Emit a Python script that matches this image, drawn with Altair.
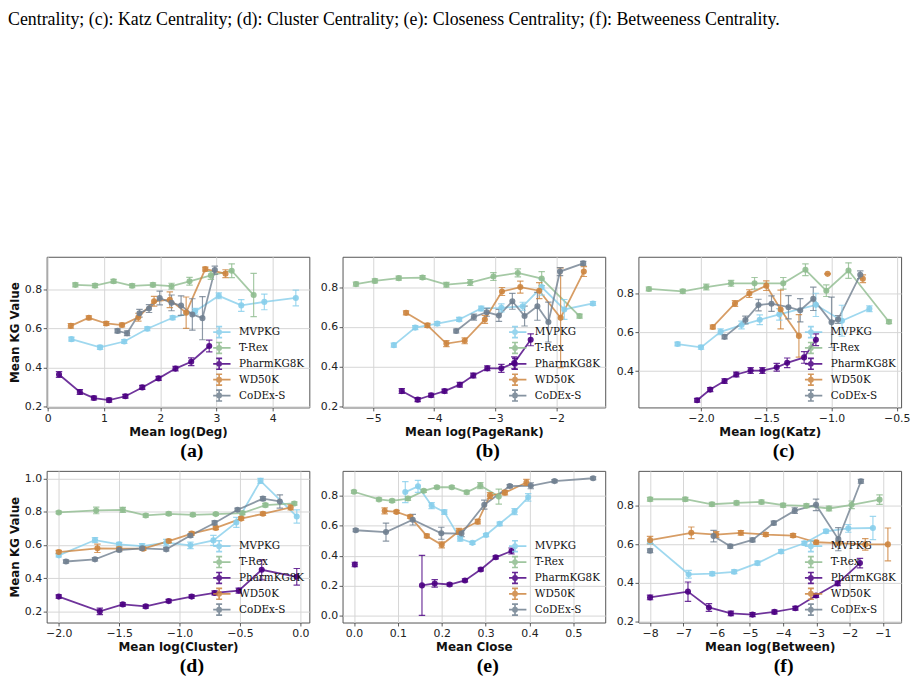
import altair as alt
import pandas as pd

SERIES = ["MVPKG", "T-Rex", "PharmKG8K", "WD50K", "CoDEx-S"]
COLORS = ["#87CEEB", "#8FBC8F", "#4B0082", "#CD853F", "#708090"]

CAPTION = ("Centrality; (c): Katz Centrality; (d): Cluster Centrality; "
           "(e): Closeness Centrality; (f): Betweeness Centrality.")

# ---------------- Panel (a): Mean log(Deg) ----------------
A_MVPKG_X = [0.42, 0.93, 1.36, 1.77, 2.22, 2.62, 3.04, 3.44, 3.85, 4.41]
A_MVPKG_Y = [0.545, 0.503, 0.533, 0.598, 0.654, 0.687, 0.766, 0.717, 0.735, 0.755]
A_MVPKG_E = [0.01, 0.01, 0.01, 0.01, 0.01, 0.015, 0.015, 0.03, 0.04, 0.04]
A_TREX_X = [0.49, 0.84, 1.17, 1.50, 1.87, 2.20, 2.52, 2.90, 3.27, 3.66]
A_TREX_Y = [0.822, 0.818, 0.840, 0.817, 0.822, 0.815, 0.840, 0.870, 0.894, 0.770]
A_TREX_E = [0.01, 0.01, 0.01, 0.01, 0.01, 0.015, 0.02, 0.02, 0.035, 0.11]
A_PHARM_X = [0.20, 0.57, 0.82, 1.09, 1.38, 1.68, 1.97, 2.27, 2.55, 2.87]
A_PHARM_Y = [0.365, 0.276, 0.245, 0.234, 0.254, 0.299, 0.345, 0.395, 0.430, 0.510]
A_PHARM_E = [0.015, 0.012, 0.01, 0.01, 0.01, 0.01, 0.01, 0.012, 0.02, 0.03]
A_WD_X = [0.41, 0.73, 1.04, 1.32, 1.61, 1.89, 2.17, 2.46, 2.80, 3.16]
A_WD_Y = [0.613, 0.654, 0.625, 0.617, 0.657, 0.738, 0.746, 0.680, 0.902, 0.879]
A_WD_E = [0.012, 0.01, 0.01, 0.01, 0.02, 0.025, 0.04, 0.08, 0.01, 0.02]
A_CODEX_X = [1.24, 1.41, 1.63, 1.80, 1.99, 2.20, 2.37, 2.57, 2.75, 2.97]
A_CODEX_Y = [0.587, 0.575, 0.677, 0.701, 0.755, 0.730, 0.716, 0.671, 0.652, 0.897]
A_CODEX_E = [0.01, 0.012, 0.02, 0.02, 0.035, 0.04, 0.05, 0.08, 0.11, 0.02]

# ---------------- Panel (b): Mean log(PageRank) ----------------
B_MVPKG_X = [-4.66, -4.31, -3.95, -3.59, -3.23, -2.90, -2.55, -2.24, -1.87, -1.40]
B_MVPKG_Y = [0.509, 0.597, 0.617, 0.638, 0.693, 0.696, 0.704, 0.800, 0.688, 0.718]
B_MVPKG_E = [0.01, 0.01, 0.01, 0.01, 0.012, 0.02, 0.02, 0.04, 0.05, 0.01]
B_TREX_X = [-5.28, -4.97, -4.58, -4.19, -3.80, -3.41, -3.03, -2.63, -2.24, -1.62]
B_TREX_Y = [0.815, 0.831, 0.845, 0.848, 0.812, 0.823, 0.853, 0.871, 0.843, 0.655]
B_TREX_E = [0.01, 0.01, 0.01, 0.01, 0.012, 0.015, 0.02, 0.02, 0.035, 0.01]
B_PHARM_X = [-4.53, -4.27, -4.05, -3.83, -3.58, -3.36, -3.13, -2.90, -2.69, -2.42]
B_PHARM_Y = [0.279, 0.236, 0.258, 0.279, 0.311, 0.357, 0.393, 0.393, 0.420, 0.536]
B_PHARM_E = [0.012, 0.01, 0.01, 0.01, 0.012, 0.012, 0.012, 0.02, 0.03, 0.03]
B_WD_X = [-4.46, -4.11, -3.80, -3.50, -3.17, -2.89, -2.59, -2.28, -1.93, -1.55]
B_WD_Y = [0.671, 0.608, 0.517, 0.531, 0.638, 0.778, 0.800, 0.782, 0.646, 0.878]
B_WD_E = [0.01, 0.01, 0.015, 0.015, 0.02, 0.02, 0.03, 0.04, 0.25, 0.025]
B_CODEX_X = [-3.64, -3.35, -3.14, -2.94, -2.72, -2.52, -2.31, -2.13, -1.94, -1.56]
B_CODEX_Y = [0.580, 0.650, 0.674, 0.658, 0.729, 0.655, 0.704, 0.625, 0.878, 0.919]
B_CODEX_E = [0.01, 0.015, 0.02, 0.03, 0.04, 0.05, 0.07, 0.10, 0.02, 0.01]

# ---------------- Panel (c): Mean log(Katz) ----------------
C_MVPKG_X = [-2.18, -2.00, -1.85, -1.69, -1.55, -1.40, -1.12, -0.92, -0.71]
C_MVPKG_Y = [0.540, 0.523, 0.603, 0.638, 0.665, 0.693, 0.742, 0.660, 0.722]
C_MVPKG_E = [0.01, 0.01, 0.015, 0.02, 0.025, 0.03, 0.06, 0.08, 0.015]
C_TREX_X = [-2.40, -2.14, -1.96, -1.77, -1.59, -1.37, -1.20, -1.04, -0.87, -0.56]
C_TREX_Y = [0.824, 0.812, 0.834, 0.853, 0.853, 0.853, 0.923, 0.815, 0.919, 0.655]
C_TREX_E = [0.01, 0.01, 0.015, 0.015, 0.03, 0.03, 0.03, 0.03, 0.04, 0.01]
C_PHARM_X = [-2.03, -1.93, -1.82, -1.73, -1.62, -1.53, -1.42, -1.34, -1.21, -1.12]
C_PHARM_Y = [0.250, 0.305, 0.349, 0.383, 0.403, 0.403, 0.420, 0.443, 0.471, 0.562]
C_PHARM_E = [0.01, 0.01, 0.012, 0.012, 0.015, 0.015, 0.02, 0.025, 0.03, 0.03]
C_WD_X = [-1.91, -1.74, -1.63, -1.50, -1.39, -1.25, -1.03, -0.76]
C_WD_Y = [0.628, 0.749, 0.800, 0.841, 0.718, 0.582, 0.902, 0.877]
C_WD_E = [0.01, 0.015, 0.02, 0.025, 0.10, 0.11, 0.0, 0.02]
C_WD_SEG = [0, 0, 0, 0, 0, 0, 1, 2]
C_CODEX_X = [-1.82, -1.66, -1.56, -1.46, -1.33, -1.24, -1.14, -1.00, -0.95, -0.78]
C_CODEX_Y = [0.577, 0.664, 0.741, 0.748, 0.730, 0.714, 0.773, 0.652, 0.667, 0.897]
C_CODEX_E = [0.01, 0.02, 0.03, 0.04, 0.06, 0.06, 0.06, 0.13, 0.02, 0.02]

# ---------------- Panel (d): Mean log(Cluster) ----------------
D_MVPKG_X = [-2.00, -1.70, -1.50, -1.31, -1.11, -0.91, -0.72, -0.53, -0.33, -0.03]
D_MVPKG_Y = [0.537, 0.629, 0.603, 0.593, 0.613, 0.597, 0.627, 0.735, 0.985, 0.771]
D_MVPKG_E = [0.01, 0.015, 0.012, 0.015, 0.02, 0.02, 0.03, 0.03, 0.015, 0.04]
D_TREX_X = [-2.00, -1.69, -1.47, -1.28, -1.09, -0.89, -0.70, -0.48, -0.29, -0.05]
D_TREX_Y = [0.795, 0.807, 0.811, 0.777, 0.787, 0.781, 0.785, 0.791, 0.839, 0.849]
D_TREX_E = [0.008, 0.02, 0.015, 0.01, 0.01, 0.01, 0.008, 0.01, 0.01, 0.01]
D_PHARM_X = [-2.00, -1.66, -1.47, -1.28, -1.09, -0.90, -0.71, -0.51, -0.32, -0.03]
D_PHARM_Y = [0.289, 0.200, 0.242, 0.230, 0.262, 0.289, 0.311, 0.325, 0.450, 0.408]
D_PHARM_E = [0.01, 0.02, 0.01, 0.01, 0.01, 0.01, 0.012, 0.015, 0.06, 0.05]
D_WD_X = [-2.00, -1.68, -1.50, -1.30, -1.09, -0.90, -0.70, -0.49, -0.31, -0.08]
D_WD_Y = [0.557, 0.579, 0.577, 0.577, 0.623, 0.668, 0.702, 0.758, 0.787, 0.825]
D_WD_E = [0.01, 0.025, 0.01, 0.01, 0.01, 0.01, 0.01, 0.01, 0.01, 0.015]
D_CODEX_X = [-1.94, -1.70, -1.50, -1.31, -1.11, -0.91, -0.71, -0.52, -0.31, -0.17]
D_CODEX_Y = [0.500, 0.513, 0.569, 0.579, 0.573, 0.656, 0.732, 0.811, 0.878, 0.861]
D_CODEX_E = [0.01, 0.01, 0.01, 0.01, 0.01, 0.01, 0.012, 0.01, 0.012, 0.04]

# ---------------- Panel (e): Mean Close ----------------
E_MVPKG_X = [0.117, 0.146, 0.177, 0.206, 0.242, 0.270, 0.301, 0.332, 0.366, 0.397]
E_MVPKG_Y = [0.824, 0.862, 0.734, 0.691, 0.513, 0.486, 0.538, 0.613, 0.694, 0.789]
E_MVPKG_E = [0.07, 0.04, 0.02, 0.015, 0.015, 0.01, 0.01, 0.012, 0.02, 0.025]
E_TREX_X = [0.000, 0.057, 0.087, 0.123, 0.159, 0.189, 0.223, 0.257, 0.288, 0.330]
E_TREX_Y = [0.826, 0.775, 0.766, 0.781, 0.832, 0.856, 0.856, 0.823, 0.867, 0.794]
E_TREX_E = [0.01, 0.01, 0.01, 0.012, 0.01, 0.01, 0.01, 0.012, 0.02, 0.05]
E_PHARM_X = [0.002, 0.155, 0.184, 0.218, 0.253, 0.289, 0.323, 0.359]
E_PHARM_Y = [0.342, 0.203, 0.216, 0.209, 0.236, 0.309, 0.390, 0.432]
E_PHARM_E = [0.015, 0.20, 0.025, 0.01, 0.01, 0.01, 0.01, 0.02]
E_PHARM_SEG = [0, 1, 1, 1, 1, 1, 1, 1]
E_WD_X = [0.070, 0.097, 0.128, 0.166, 0.200, 0.239, 0.282, 0.310, 0.344, 0.393]
E_WD_Y = [0.699, 0.692, 0.660, 0.532, 0.473, 0.563, 0.627, 0.800, 0.820, 0.888]
E_WD_E = [0.02, 0.01, 0.01, 0.012, 0.02, 0.02, 0.015, 0.02, 0.015, 0.02]
E_CODEX_X = [0.004, 0.073, 0.134, 0.199, 0.245, 0.297, 0.355, 0.403, 0.457, 0.545]
E_CODEX_Y = [0.570, 0.558, 0.640, 0.550, 0.548, 0.740, 0.864, 0.866, 0.897, 0.916]
E_CODEX_E = [0.01, 0.06, 0.035, 0.04, 0.02, 0.03, 0.01, 0.02, 0.01, 0.01]

# ---------------- Panel (f): Mean log(Between) ----------------
F_MVPKG_X = [-8.00, -6.84, -6.13, -5.47, -4.77, -4.06, -3.36, -2.71, -2.04, -1.30]
F_MVPKG_Y = [0.614, 0.445, 0.448, 0.458, 0.503, 0.563, 0.606, 0.668, 0.683, 0.685]
F_MVPKG_E = [0.01, 0.02, 0.01, 0.01, 0.01, 0.01, 0.01, 0.01, 0.02, 0.06]
F_TREX_X = [-8.00, -6.94, -6.14, -5.40, -4.65, -4.00, -3.30, -2.62, -1.94, -1.10]
F_TREX_Y = [0.834, 0.834, 0.808, 0.815, 0.820, 0.803, 0.800, 0.786, 0.805, 0.832]
F_TREX_E = [0.01, 0.01, 0.01, 0.01, 0.01, 0.01, 0.01, 0.012, 0.02, 0.025]
F_PHARM_X = [-8.00, -6.86, -6.23, -5.57, -4.92, -4.26, -3.63, -3.01, -2.36, -1.69]
F_PHARM_Y = [0.325, 0.355, 0.273, 0.242, 0.236, 0.250, 0.269, 0.335, 0.398, 0.503]
F_PHARM_E = [0.012, 0.05, 0.02, 0.012, 0.01, 0.01, 0.01, 0.01, 0.012, 0.025]
F_WD_X = [-8.00, -6.76, -6.01, -5.27, -4.52, -3.70, -3.01, -2.34, -1.53, -0.85]
F_WD_Y = [0.622, 0.660, 0.651, 0.660, 0.651, 0.646, 0.611, 0.607, 0.600, 0.600]
F_WD_E = [0.02, 0.03, 0.015, 0.012, 0.01, 0.01, 0.01, 0.01, 0.03, 0.085]
F_CODEX_X = [-8.00, -6.09, -5.59, -4.92, -4.28, -3.65, -3.01, -2.34, -1.66]
F_CODEX_Y = [0.567, 0.643, 0.590, 0.623, 0.711, 0.775, 0.805, 0.627, 0.927]
F_CODEX_E = [0.01, 0.03, 0.01, 0.01, 0.01, 0.015, 0.03, 0.06, 0.01]
F_CODEX_SEG = [0, 1, 1, 1, 1, 1, 1, 1, 1]

# legend handle: line + error bar with caps + dot (unit box, symbolSize 100 -> 5px/unit)
LEGEND_PATH = ("M-2.3,0H2.3M0,-1.1V1.1M-0.6,-1.1H0.6M-0.6,1.1H0.6"
               "M-0.42,0A0.42,0.42 0 1,0 0.42,0A0.42,0.42 0 1,0 -0.42,0Z")


def frame(series_list):
    rows = []
    for name, xs, ys, es, segs in series_list:
        if segs is None:
            segs = [0] * len(xs)
        for x, y, e, s in zip(xs, ys, es, segs):
            rows.append({"series": name, "x": x, "y": y, "lo": y - e, "hi": y + e,
                         "seg": f"{name}-{s}"})
    return pd.DataFrame(rows)


def panel(series_list, xdom, ydom, xticks, yticks, xfmt, xtitle, ytitle, label, height):
    df = frame(series_list)
    base = alt.Chart(df)
    xscale = alt.Scale(domain=xdom, nice=False, zero=False)
    yscale = alt.Scale(domain=ydom, nice=False, zero=False)
    xaxis = alt.Axis(values=xticks, format=xfmt, title=xtitle)
    yaxis = alt.Axis(values=yticks, format=".1f", title=ytitle)

    def X():
        return alt.X("x:Q", scale=xscale, axis=xaxis)

    def Y(field):
        return alt.Y(f"{field}:Q", scale=yscale, axis=yaxis)

    cscale = alt.Scale(domain=SERIES, range=COLORS)
    legend = alt.Legend(
        orient="none", legendX=168, legendY=68.3, padding=0, title=None,
        symbolType=LEGEND_PATH, symbolSize=100, symbolStrokeWidth=1.7,
        symbolOpacity=0.85, labelFont="DejaVu Serif", labelFontSize=10.5,
        labelColor="#111", labelOffset=14, rowPadding=0, clipHeight=15.4,
    )
    line = base.mark_line(strokeWidth=1.8, opacity=0.8, clip=True).encode(
        x=X(), y=Y("y"), color=alt.Color("series:N", scale=cscale, legend=legend),
        detail="seg:N", order="x:Q")
    rule = base.mark_rule(strokeWidth=1.2, opacity=0.8, clip=True).encode(
        x=X(), y=Y("lo"), y2="hi:Q",
        color=alt.Color("series:N", scale=cscale, legend=None))
    cap_lo = base.mark_tick(orient="horizontal", size=6.5, thickness=1.2, opacity=0.8,
                            clip=True).encode(
        x=X(), y=Y("lo"), color=alt.Color("series:N", scale=cscale, legend=None))
    cap_hi = base.mark_tick(orient="horizontal", size=6.5, thickness=1.2, opacity=0.8,
                            clip=True).encode(
        x=X(), y=Y("hi"), color=alt.Color("series:N", scale=cscale, legend=None))
    pts = base.mark_circle(size=38, opacity=0.9, clip=True).encode(
        x=X(), y=Y("y"), color=alt.Color("series:N", scale=cscale, legend=None))
    return alt.layer(line, rule, cap_lo, cap_hi, pts).properties(
        width=265, height=height,
        title=alt.TitleParams(label, orient="bottom", anchor="middle", frame="group",
                              dx=14, offset=4, font="Liberation Serif", fontSize=20,
                              fontWeight="bold", color="#000"),
    )


Y_A = [0.2, 0.4, 0.6, 0.8]
Y_B = [0.2, 0.4, 0.6, 0.8]
Y_C = [0.4, 0.6, 0.8]
Y_D = [0.2, 0.4, 0.6, 0.8, 1.0]
Y_E = [0.0, 0.2, 0.4, 0.6, 0.8]
Y_F = [0.2, 0.4, 0.6, 0.8]

pa = panel([
    ("MVPKG", A_MVPKG_X, A_MVPKG_Y, A_MVPKG_E, None),
    ("T-Rex", A_TREX_X, A_TREX_Y, A_TREX_E, None),
    ("PharmKG8K", A_PHARM_X, A_PHARM_Y, A_PHARM_E, None),
    ("WD50K", A_WD_X, A_WD_Y, A_WD_E, None),
    ("CoDEx-S", A_CODEX_X, A_CODEX_Y, A_CODEX_E, None),
], [-0.02, 4.65], [0.197, 0.965], [0, 1, 2, 3, 4], Y_A, "d",
    "Mean log(Deg)", "Mean KG Value", "(a)", 152)

pb = panel([
    ("MVPKG", B_MVPKG_X, B_MVPKG_Y, B_MVPKG_E, None),
    ("T-Rex", B_TREX_X, B_TREX_Y, B_TREX_E, None),
    ("PharmKG8K", B_PHARM_X, B_PHARM_Y, B_PHARM_E, None),
    ("WD50K", B_WD_X, B_WD_Y, B_WD_E, None),
    ("CoDEx-S", B_CODEX_X, B_CODEX_Y, B_CODEX_E, None),
], [-5.50, -1.20], [0.197, 0.952], [-5, -4, -3, -2], Y_B, "d",
    "Mean log(PageRank)", None, "(b)", 152)

pc = panel([
    ("MVPKG", C_MVPKG_X, C_MVPKG_Y, C_MVPKG_E, None),
    ("T-Rex", C_TREX_X, C_TREX_Y, C_TREX_E, None),
    ("PharmKG8K", C_PHARM_X, C_PHARM_Y, C_PHARM_E, None),
    ("WD50K", C_WD_X, C_WD_Y, C_WD_E, C_WD_SEG),
    ("CoDEx-S", C_CODEX_X, C_CODEX_Y, C_CODEX_E, None),
], [-2.48, -0.467], [0.213, 0.99], [-2.0, -1.5, -1.0, -0.5], Y_C, ".1f",
    "Mean log(Katz)", None, "(c)", 152)

pd_ = panel([
    ("MVPKG", D_MVPKG_X, D_MVPKG_Y, D_MVPKG_E, None),
    ("T-Rex", D_TREX_X, D_TREX_Y, D_TREX_E, None),
    ("PharmKG8K", D_PHARM_X, D_PHARM_Y, D_PHARM_E, None),
    ("WD50K", D_WD_X, D_WD_Y, D_WD_E, None),
    ("CoDEx-S", D_CODEX_X, D_CODEX_Y, D_CODEX_E, None),
], [-2.10, 0.074], [0.133, 1.045], [-2.0, -1.5, -1.0, -0.5, 0.0], Y_D, ".1f",
    "Mean log(Cluster)", "Mean KG Value", "(d)", 153)

pe = panel([
    ("MVPKG", E_MVPKG_X, E_MVPKG_Y, E_MVPKG_E, None),
    ("T-Rex", E_TREX_X, E_TREX_Y, E_TREX_E, None),
    ("PharmKG8K", E_PHARM_X, E_PHARM_Y, E_PHARM_E, E_PHARM_SEG),
    ("WD50K", E_WD_X, E_WD_Y, E_WD_E, None),
    ("CoDEx-S", E_CODEX_X, E_CODEX_Y, E_CODEX_E, None),
], [-0.026, 0.5725], [-0.044, 0.965], [0.0, 0.1, 0.2, 0.3, 0.4, 0.5], Y_E, ".1f",
    "Mean Close", None, "(e)", 153)

pf = panel([
    ("MVPKG", F_MVPKG_X, F_MVPKG_Y, F_MVPKG_E, None),
    ("T-Rex", F_TREX_X, F_TREX_Y, F_TREX_E, None),
    ("PharmKG8K", F_PHARM_X, F_PHARM_Y, F_PHARM_E, None),
    ("WD50K", F_WD_X, F_WD_Y, F_WD_E, None),
    ("CoDEx-S", F_CODEX_X, F_CODEX_Y, F_CODEX_E, F_CODEX_SEG),
], [-8.35, -0.453], [0.195, 0.981], [-8, -7, -6, -5, -4, -3, -2, -1], Y_F, "d",
    "Mean log(Between)", None, "(f)", 153)

row1 = alt.hconcat(pa, pb, pc, spacing=9.5).resolve_scale(color="independent")
row2 = alt.hconcat(pd_, pe, pf, spacing=9.5).resolve_scale(color="independent")

chart = alt.vconcat(row1, row2, spacing=8).resolve_scale(
    color="independent"
).properties(
    padding=0,
    title=alt.TitleParams(CAPTION, anchor="start", font="Liberation Serif",
                          fontSize=18, fontWeight="normal", color="#000", offset=229),
).configure_view(
    stroke="#555", strokeWidth=1
).configure_axis(
    grid=True, gridColor="#d6d6d6", gridWidth=1, domain=False,
    tickColor="#333", tickSize=3.5, tickWidth=0.8,
    labelFont="DejaVu Sans", labelFontSize=11, labelColor="#222", labelPadding=1.5,
    titleFont="DejaVu Sans", titleFontWeight="bold", titleFontSize=12,
    titleColor="#111", titlePadding=3,
)

chart.save("out.html", embed_options={"renderer": "svg", "actions": False})
